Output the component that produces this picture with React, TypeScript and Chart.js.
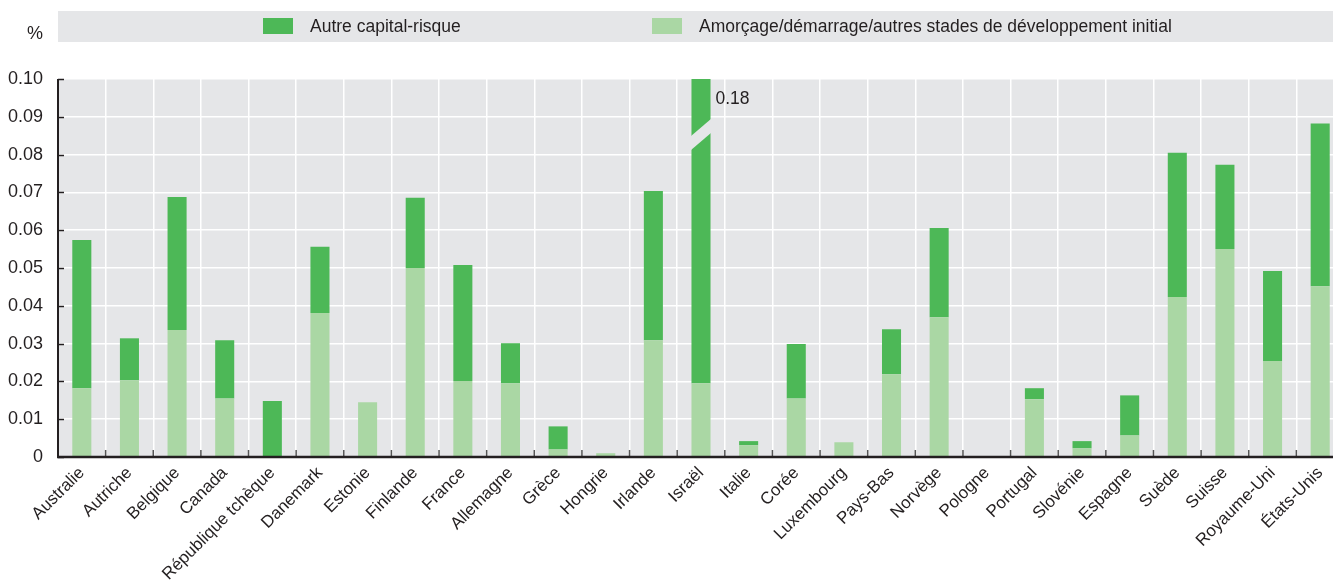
import React, { useEffect, useRef } from "react";
import { Chart, registerables } from "chart.js";

Chart.register(...registerables);

const categories = [
  "Australie", "Autriche", "Belgique", "Canada", "République tchèque", "Danemark", "Estonie",
  "Finlande", "France", "Allemagne", "Grèce", "Hongrie", "Irlande", "Israël", "Italie", "Corée",
  "Luxembourg", "Pays-Bas", "Norvège", "Pologne", "Portugal", "Slovénie", "Espagne", "Suède",
  "Suisse", "Royaume-Uni", "États-Unis",
];

// Amorçage/démarrage/autres stades de développement initial (bottom, light)
const seedValues = [
  0.0182, 0.0203, 0.0336, 0.0155, 0, 0.0381, 0.0145, 0.05, 0.0201, 0.0195, 0.002, 0.001, 0.0309,
  0.0195, 0.0031, 0.0155, 0.0039, 0.0219, 0.037, 0, 0.0153, 0.0023, 0.0057, 0.0423, 0.055, 0.0254,
  0.0452,
];

// Autre capital-risque (top, dark)
const otherValues = [
  0.0392, 0.0111, 0.0352, 0.0154, 0.0148, 0.0175, 0, 0.0186, 0.0307, 0.0106, 0.0061, 0, 0.0395,
  0.1605, 0.0011, 0.0144, 0, 0.0119, 0.0236, 0, 0.0029, 0.0019, 0.0106, 0.0382, 0.0223, 0.0238,
  0.043,
];

const seriesNames = ["Autre capital-risque", "Amorçage/démarrage/autres stades de développement initial"];
const unitLabel = "%";
const yMin = 0;
const yMax = 0.1;
const yStep = 0.01;

const FONT = '"Liberation Sans", Arial, sans-serif';
const TEXT = "#231f20";
const BG = "#e5e6e8";
const DARK = "#4db857";
const LIGHT = "#aad7a4";
const BREAK_VALUE = 0.0853;

const decorPlugin = {
  id: "decor",
  beforeDraw(chart: any) {
    const { ctx, chartArea: a } = chart;
    ctx.save();
    ctx.fillStyle = BG;
    ctx.fillRect(a.left, a.top, a.right - a.left, a.bottom - a.top);
    ctx.fillRect(a.left, 11, chart.width - a.left, 31);
    const items = [
      { label: seriesNames[0], color: DARK, x: 263 },
      { label: seriesNames[1], color: LIGHT, x: 652 },
    ];
    ctx.font = `17.5px ${FONT}`;
    ctx.textBaseline = "middle";
    ctx.textAlign = "left";
    for (const it of items) {
      ctx.fillStyle = it.color;
      ctx.fillRect(it.x, 18, 30, 16);
      ctx.fillStyle = TEXT;
      ctx.fillText(it.label, it.x + 47, 27);
    }
    ctx.font = `18px ${FONT}`;
    ctx.textAlign = "center";
    ctx.fillText(unitLabel, 35, 34);
    ctx.restore();
  },
  afterDatasetsDraw(chart: any) {
    const { ctx, chartArea: a, scales } = chart;
    const y = scales.y;
    const meta = chart.getDatasetMeta(1);
    ctx.save();
    categories.forEach((_, i) => {
      const total = seedValues[i] + otherValues[i];
      if (total <= yMax) return;
      const bar = meta.data[i];
      const { x, width } = bar.getProps(["x", "width"], true);
      const x0 = x - width / 2 - 1;
      const x1 = x + width / 2 + 1;
      const yc = y.getPixelForValue(BREAK_VALUE);
      const d = (width * 0.95) / 2;
      const g = 7;
      ctx.fillStyle = BG;
      ctx.beginPath();
      ctx.moveTo(x0, yc - g + d);
      ctx.lineTo(x1, yc - g - d);
      ctx.lineTo(x1, yc + g - d);
      ctx.lineTo(x0, yc + g + d);
      ctx.closePath();
      ctx.fill();
      ctx.fillStyle = TEXT;
      ctx.font = `17.5px ${FONT}`;
      ctx.textAlign = "left";
      ctx.textBaseline = "middle";
      ctx.fillText(total.toFixed(2), x + width / 2 + 5, a.top + 20);
    });
    ctx.restore();
  },
  afterDraw(chart: any) {
    const { ctx, chartArea: a, scales } = chart;
    const y = scales.y;
    const xs = scales.x;
    ctx.save();
    ctx.strokeStyle = TEXT;
    ctx.lineWidth = 1.5;
    for (let v = yMin; v <= yMax + 1e-9; v += yStep) {
      const py = Math.round(y.getPixelForValue(v)) + 0.5;
      ctx.beginPath();
      ctx.moveTo(a.left, py);
      ctx.lineTo(a.left + 6, py);
      ctx.stroke();
    }
    ctx.strokeStyle = "#555";
    for (let i = 1; i < categories.length; i++) {
      const px = (xs.getPixelForValue(i - 1) + xs.getPixelForValue(i)) / 2;
      ctx.beginPath();
      ctx.moveTo(px, a.bottom);
      ctx.lineTo(px, a.bottom - 7);
      ctx.stroke();
    }
    ctx.strokeStyle = TEXT;
    ctx.lineWidth = 2;
    ctx.beginPath();
    ctx.moveTo(a.left, a.top);
    ctx.lineTo(a.left, a.bottom + 1);
    ctx.stroke();
    ctx.lineWidth = 2.5;
    ctx.beginPath();
    ctx.moveTo(a.left - 1, a.bottom);
    ctx.lineTo(a.right, a.bottom);
    ctx.stroke();
    ctx.restore();
  },
};

export default function App() {
  const ref = useRef<HTMLCanvasElement>(null);
  useEffect(() => {
    const chart = new Chart(ref.current!, {
      type: "bar",
      data: {
        labels: categories,
        datasets: [
          {
            label: seriesNames[1],
            data: seedValues,
            backgroundColor: LIGHT,
            borderWidth: 0,
            barPercentage: 0.4,
            categoryPercentage: 1,
          },
          {
            label: seriesNames[0],
            data: otherValues,
            backgroundColor: DARK,
            borderWidth: 0,
            barPercentage: 0.4,
            categoryPercentage: 1,
          },
        ],
      },
      options: {
        animation: false,
        responsive: true,
        maintainAspectRatio: false,
        layout: { padding: { top: 79, left: 0, right: 0, bottom: 0 } },
        plugins: { legend: { display: false }, tooltip: { enabled: false } },
        scales: {
          x: {
            stacked: true,
            offset: true,
            grid: { color: "#ffffff", lineWidth: 1.5, drawTicks: false, offset: true },
            border: { display: false },
            ticks: {
              autoSkip: false,
              maxRotation: 45,
              minRotation: 45,
              padding: 6,
              color: TEXT,
              font: { family: FONT, size: 17 },
            },
            afterFit: (s: any) => {
              s.height = 128;
            },
          },
          y: {
            stacked: true,
            min: yMin,
            max: yMax,
            grid: {
              color: (c: any) => (c.tick && c.tick.value === 0 ? "rgba(0,0,0,0)" : "#ffffff"),
              lineWidth: 1.5,
              drawTicks: false,
            },
            border: { display: false },
            ticks: {
              stepSize: yStep,
              padding: 15,
              color: TEXT,
              font: { family: FONT, size: 18 },
              callback: (v: any) => (Number(v) === 0 ? "0" : Number(v).toFixed(2)),
            },
            afterFit: (s: any) => {
              s.width = 58;
            },
          },
        },
      },
      plugins: [decorPlugin],
    } as any);
    return () => chart.destroy();
  }, []);
  return (
    <div
      style={{
        position: "absolute",
        left: 0,
        top: 0,
        width: 1333,
        height: 585,
        overflow: "hidden",
        background: "#fff",
      }}
    >
      <div style={{ position: "relative", width: 1344, height: 585 }}>
        <canvas ref={ref} />
      </div>
    </div>
  );
}
